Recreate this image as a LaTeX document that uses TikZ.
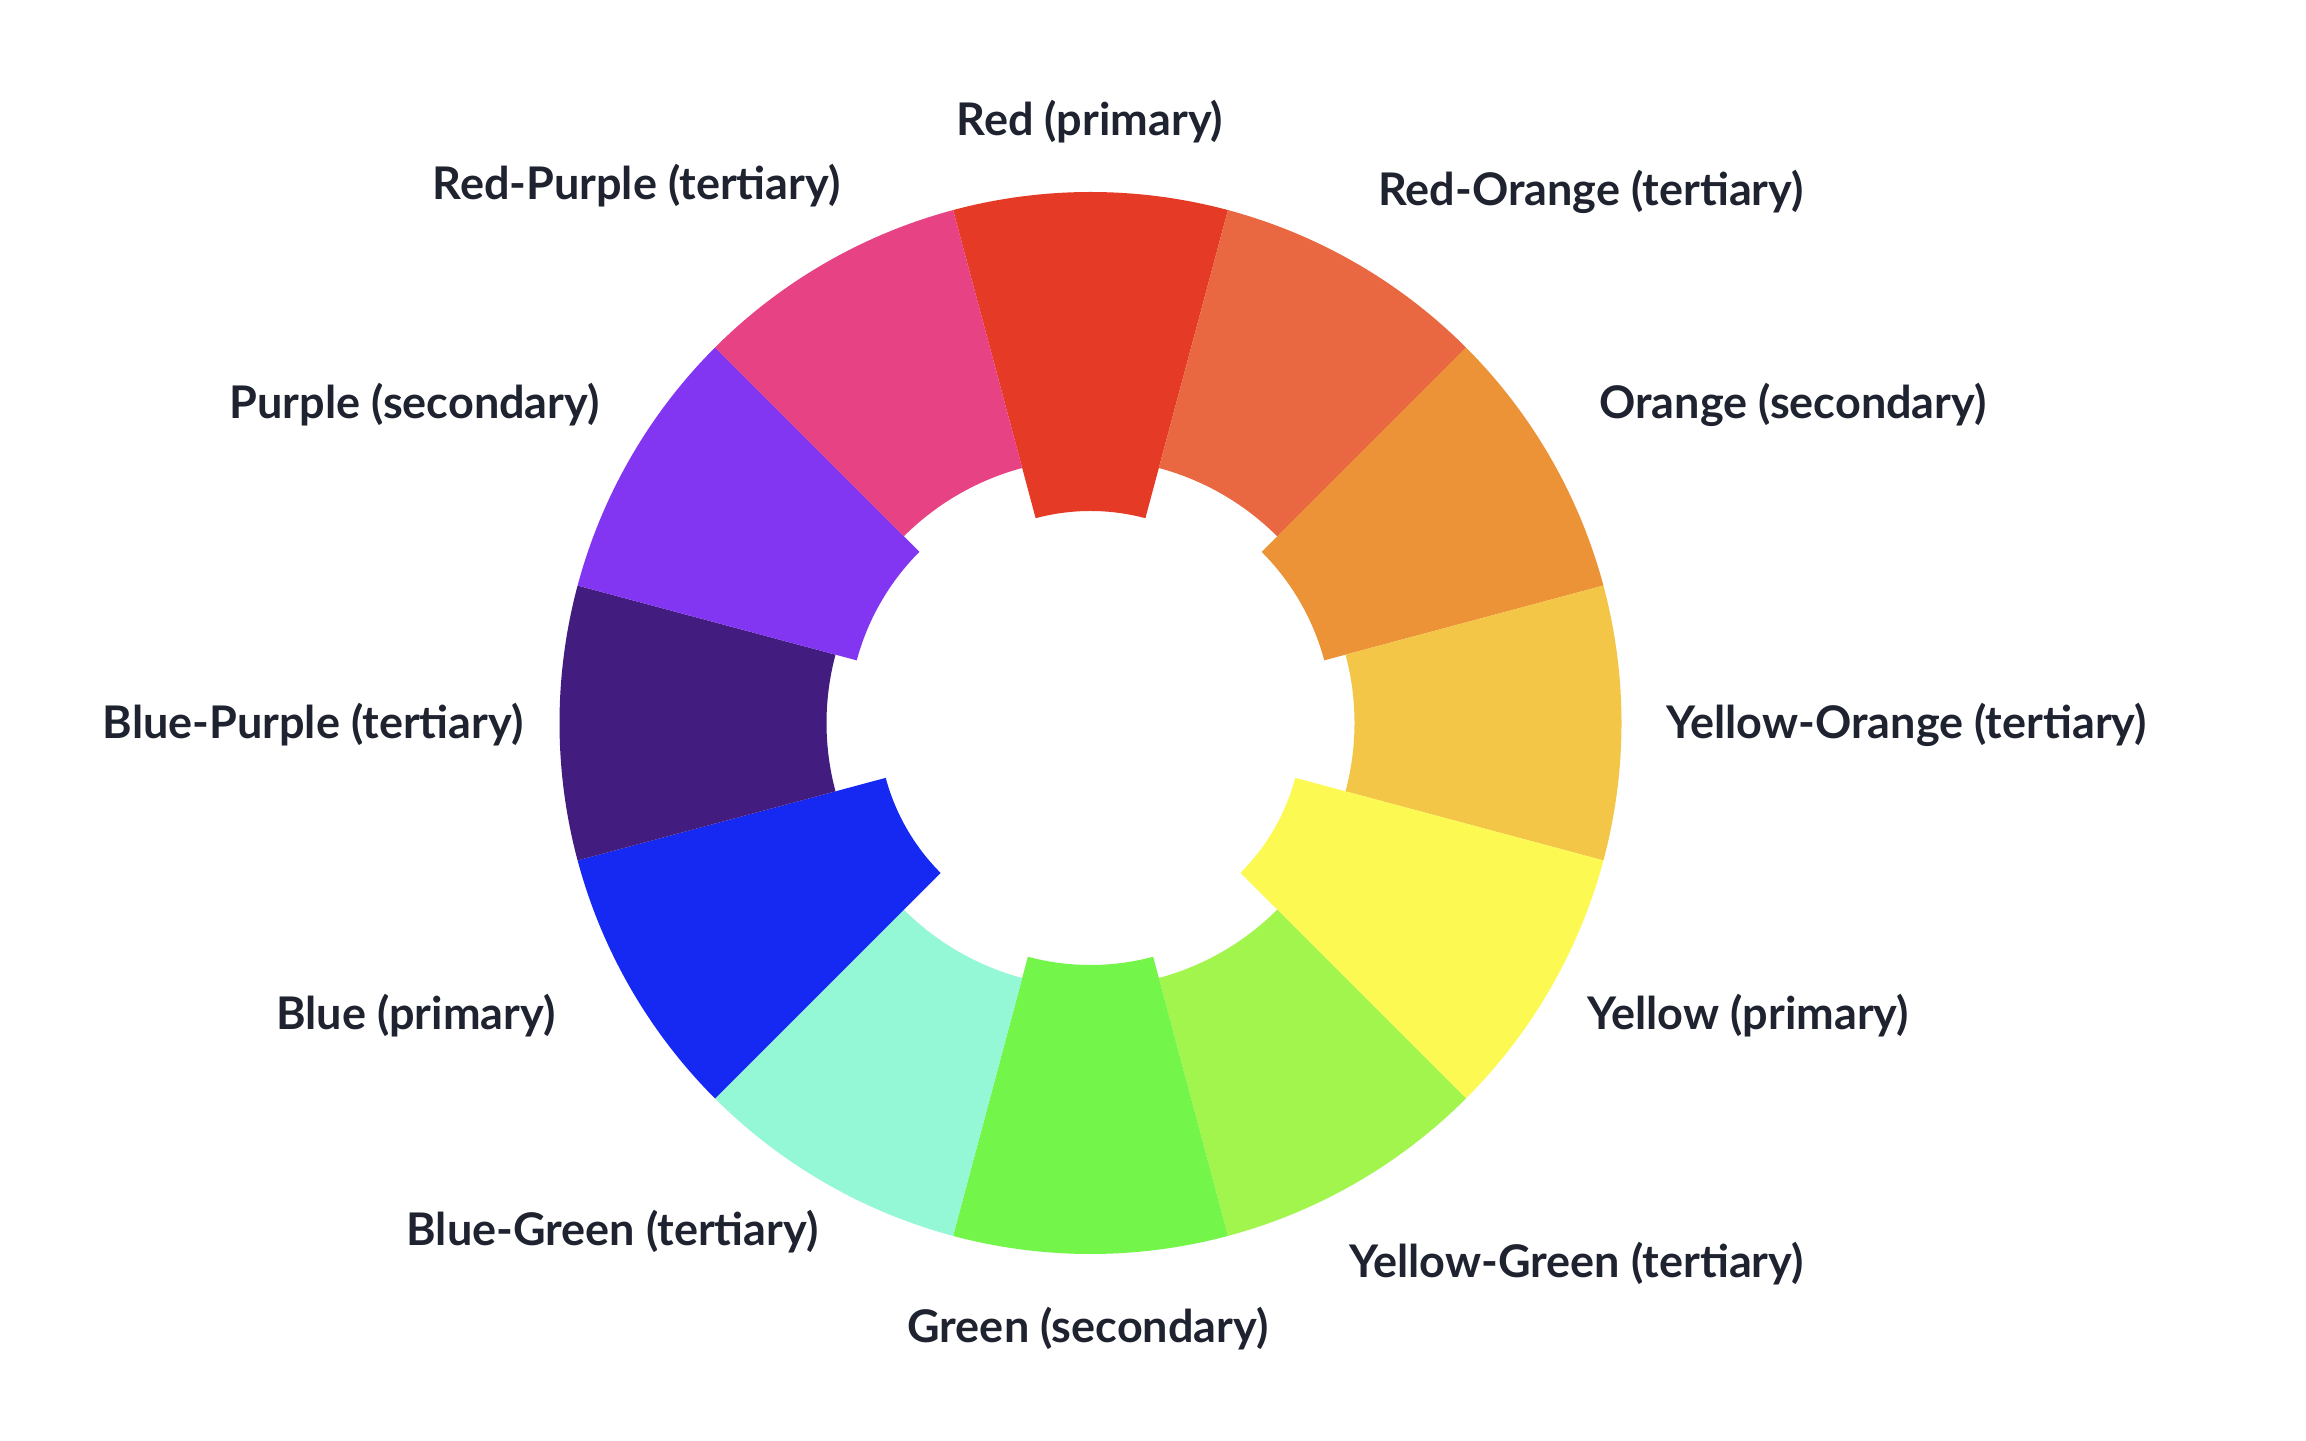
\documentclass[tikz,border=0pt]{standalone}
\usepackage{fontspec}
\setmainfont{Lato}
\definecolor{cRed}{HTML}{E53B26}
\definecolor{cRedOrange}{HTML}{E96741}
\definecolor{cOrange}{HTML}{EC9337}
\definecolor{cYellowOrange}{HTML}{F4C647}
\definecolor{cYellow}{HTML}{FCF953}
\definecolor{cYellowGreen}{HTML}{A1F54C}
\definecolor{cGreen}{HTML}{74F54A}
\definecolor{cBlueGreen}{HTML}{94F7D6}
\definecolor{cBlue}{HTML}{1629F2}
\definecolor{cBluePurple}{HTML}{421C7E}
\definecolor{cPurple}{HTML}{8236F2}
\definecolor{cRedPurple}{HTML}{E74283}
\definecolor{labeltext}{HTML}{1F2330}
\tikzset{
  lbl/.style={font=\fontsize{22.5}{26}\selectfont\bfseries, text=labeltext, inner sep=0pt},
}
\newcommand{\wseg}[4]{% color, start angle, end angle, inner radius
  \fill[#1] (#2:531) arc[start angle=#2, end angle=#3, radius=531] -- (#3:#4) arc[start angle=#3, end angle=#2, radius=#4] -- cycle;}
\begin{document}
\begin{tikzpicture}[x=0.5pt,y=0.5pt]
\fill[white] (0,0) rectangle (2306,1440);
\useasboundingbox (0,0) rectangle (2306,1440);
\begin{scope}[shift={(1090.5,717)}]
  \wseg{cRed}{75}{105}{212}
  \wseg{cRedOrange}{45}{75}{264}
  \wseg{cOrange}{15}{45}{242}
  \wseg{cYellowOrange}{-15}{15}{264}
  \wseg{cYellow}{-45}{-15}{212}
  \wseg{cYellowGreen}{-75}{-45}{264}
  \wseg{cGreen}{-105}{-75}{242}
  \wseg{cBlueGreen}{-135}{-105}{264}
  \wseg{cBlue}{-165}{-135}{212}
  \wseg{cBluePurple}{165}{195}{264}
  \wseg{cPurple}{135}{165}{242}
  \wseg{cRedPurple}{105}{135}{264}
\end{scope}
\node[lbl, anchor=mid] (red) at (1090,1310) {Red (primary)};
\node[lbl, anchor=mid west] (redorange) at (1378,1240) {Red-Orange (tertiary)};
\node[lbl, anchor=mid west] (orange) at (1599,1027) {Orange (secondary)};
\node[lbl, anchor=mid west] (yelloworange) at (1666,707) {Yellow-Orange (tertiary)};
\node[lbl, anchor=mid west] (yellow) at (1587,416) {Yellow (primary)};
\node[lbl, anchor=mid west] (yellowgreen) at (1349,168) {Yellow-Green (tertiary)};
\node[lbl, anchor=mid] (green) at (1088,103) {Green (secondary)};
\node[lbl, anchor=mid east] (bluegreen) at (819,200) {Blue-Green (tertiary)};
\node[lbl, anchor=mid east] (blue) at (556,416) {Blue (primary)};
\node[lbl, anchor=mid east] (bluepurple) at (524,707) {Blue-Purple (tertiary)};
\node[lbl, anchor=mid east] (purple) at (600,1027) {Purple (secondary)};
\node[lbl, anchor=mid east] (redpurple) at (841,1246) {Red-Purple (tertiary)};
\end{tikzpicture}
\end{document}
